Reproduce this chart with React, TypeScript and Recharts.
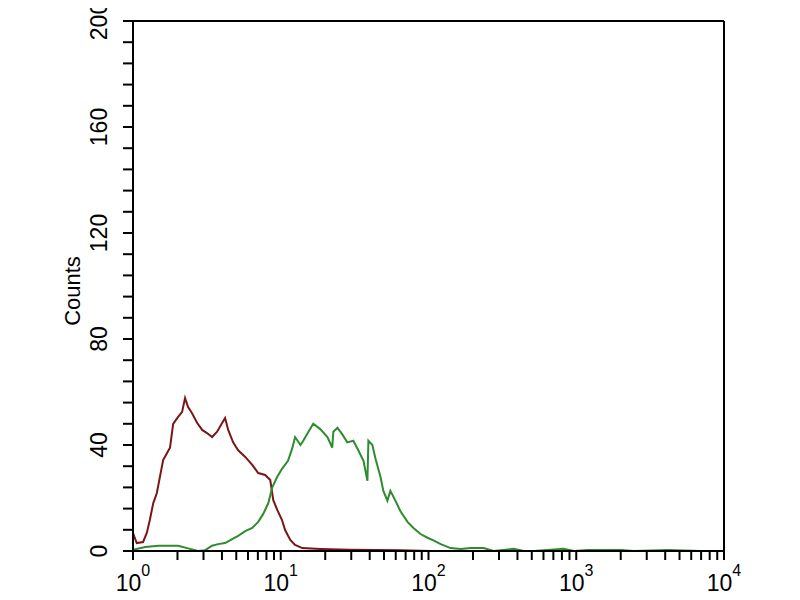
import { LineChart, Line, XAxis, YAxis, ReferenceLine, Label } from "recharts";

// fluorescence intensity (x) and counts (y)
const redIntensity = [1.0, 1.06, 1.17, 1.24, 1.3, 1.37, 1.45, 1.52, 1.6, 1.7, 1.78, 1.87, 2.02, 2.15, 2.25, 2.36, 2.51, 2.72, 2.94, 3.17, 3.43, 3.71, 4.01, 4.2, 4.41, 4.76, 5.15, 5.75, 6.41, 7.04, 7.85, 8.49, 8.9, 9.47, 10.2, 10.7, 11.6, 12.5, 14.0, 18.5, 29.5, 64.6, 103, 300, 1000, 10000];
const redCounts = [6.8, 3, 3.4, 6.8, 11.7, 18, 21.9, 27.9, 34.3, 37, 39, 48, 50.6, 52.5, 57.7, 54.3, 52, 48.3, 45.7, 44.5, 43, 45, 48.3, 50.2, 45.7, 41, 38, 35.5, 32.5, 29.4, 28.7, 26.8, 19.2, 15.5, 11.7, 7.9, 4.2, 2.3, 1.1, 0.8, 0.5, 0.3, 0, 0, 0, 0];

const greenIntensity = [1.0, 1.21, 1.48, 1.73, 2.02, 2.36, 2.76, 3.08, 3.43, 3.77, 4.2, 4.69, 5.15, 5.75, 6.41, 7.04, 7.61, 8.23, 8.76, 9.47, 10.2, 11.2, 12.0, 12.5, 13.6, 14.2, 15.4, 16.6, 18.5, 20.7, 22.3, 22.7, 24.2, 26.1, 28.2, 31.0, 33.5, 36.3, 38.6, 39.2, 41.7, 43.7, 47.3, 49.5, 52.7, 55.2, 59.7, 64.6, 72.1, 79.1, 88.3, 98.4, 108, 121, 141, 165, 193, 236, 276, 377, 441, 515, 823, 962, 1197, 1636, 2004, 2455, 4170, 6982, 10000];
const greenCounts = [0.5, 1.5, 2, 2, 2, 1, 0, 0.3, 2, 2.6, 3, 4.5, 5.7, 7.5, 8.7, 11, 14, 18, 24, 28, 31, 34, 39, 43, 40, 41.6, 45, 48, 46, 43, 39, 45, 46.5, 44, 41, 41.6, 38, 34, 26.5, 41.6, 40, 35, 28, 22.7, 19, 22.7, 19, 15, 11, 8.7, 6.4, 5, 4, 2.6, 1.1, 0.8, 1.1, 1.1, 0, 0.8, 0, 0, 0.8, 0, 0.4, 0.4, 0.4, 0, 0.4, 0, 0];

const xTicks = [1, 2, 3, 4, 5, 6, 7, 8, 9, 10, 20, 30, 40, 50, 60, 70, 80, 90, 100, 200, 300, 400, 500, 600, 700, 800, 900, 1000, 2000, 3000, 4000, 5000, 6000, 7000, 8000, 9000, 10000];
const yTicks = [0, 8, 16, 24, 32, 40, 48, 56, 64, 72, 80, 88, 96, 104, 112, 120, 128, 136, 144, 152, 160, 168, 176, 184, 192, 200];
const yLabels = [0, 40, 80, 120, 160, 200];

const redData = redIntensity.map((x, i) => ({ x, y: redCounts[i] }));
const greenData = greenIntensity.map((x, i) => ({ x, y: greenCounts[i] }));

const FONT = "'Liberation Sans', Arial, sans-serif";

function XTick(props: any) {
    const { x, y, payload } = props;
    const lg = Math.log10(payload.value);
    const exp = Math.round(lg);
    const major = Math.abs(lg - exp) < 1e-6;
    return (
        <g>
            <line x1={x} y1={y} x2={x} y2={y + 9} stroke="#000" strokeWidth={2} />
            {major && (
                <text x={x} y={y + 40} textAnchor="middle" fontSize={23} fontFamily={FONT} fill="#000">
                    <tspan>10</tspan>
                    <tspan dy={-15} fontSize={16}>{exp}</tspan>
                </text>
            )}
        </g>
    );
}

function YTick(props: any) {
    const { x, y, payload } = props;
    const show = yLabels.includes(payload.value);
    return (
        <g>
            <line x1={x - 10} y1={y} x2={x} y2={y} stroke="#000" strokeWidth={2} />
            {show && (
                <text
                    x={x - 26}
                    y={y}
                    transform={`rotate(-90, ${x - 26}, ${y})`}
                    textAnchor="middle"
                    fontSize={23}
                    fontFamily={FONT}
                    fill="#000"
                >
                    {payload.value}
                </text>
            )}
        </g>
    );
}

function CountsLabel(props: any) {
    const { viewBox } = props;
    const cx = viewBox.x + viewBox.width - 53;
    const cy = viewBox.y + viewBox.height / 2 + 5;
    return (
        <text x={cx} y={cy} transform={`rotate(-90, ${cx}, ${cy})`} textAnchor="middle" fontSize={22} fontFamily={FONT} fill="#000">
            Counts
        </text>
    );
}

export default function App() {
    return (
        <div style={{ background: "#fff" }}>
            <style>{`svg.recharts-surface { overflow: visible; }`}</style>
            <LineChart width={784} height={584} margin={{ top: 13, right: 68, bottom: 0, left: 65 }}>
                <XAxis
                    dataKey="x"
                    type="number"
                    scale="log"
                    domain={[1, 10000]}
                    allowDataOverflow
                    ticks={xTicks}
                    interval={0}
                    height={41}
                    tickSize={0}
                    tickMargin={0}
                    tickLine={false}
                    axisLine={{ stroke: "#000", strokeWidth: 2 }}
                    tick={<XTick />}
                />
                <YAxis
                    type="number"
                    domain={[0, 200]}
                    allowDataOverflow
                    ticks={yTicks}
                    interval={0}
                    width={60}
                    tickSize={0}
                    tickMargin={0}
                    tickLine={false}
                    axisLine={{ stroke: "#000", strokeWidth: 2 }}
                    tick={<YTick />}
                >
                    <Label content={<CountsLabel />} />
                </YAxis>
                <ReferenceLine y={200} stroke="#000" strokeWidth={2} />
                <ReferenceLine x={10000} stroke="#000" strokeWidth={2} />
                <Line data={redData} dataKey="y" type="linear" stroke="#7a1518" strokeWidth={2} dot={false} isAnimationActive={false} />
                <Line data={greenData} dataKey="y" type="linear" stroke="#2e8b2e" strokeWidth={2} dot={false} isAnimationActive={false} />
            </LineChart>
        </div>
    );
}
